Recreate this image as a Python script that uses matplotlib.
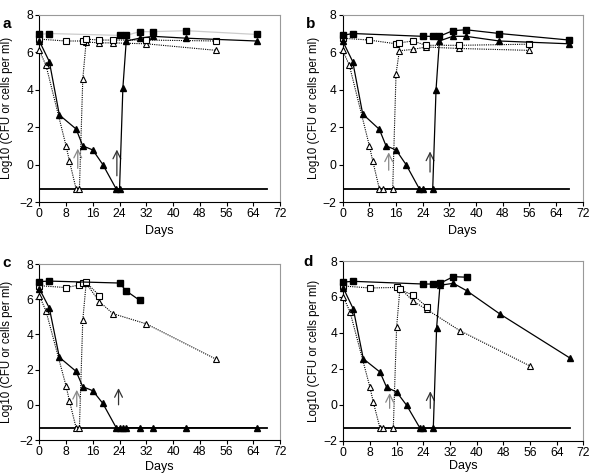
import matplotlib
matplotlib.use("Agg")
import matplotlib.pyplot as plt

plt.rcParams['font.family'] = ['Liberation Sans', 'DejaVu Sans']

# detection limit and axis setup
limit_y = -1.3
limit_xmax = 68
x_ticks = list(range(0, 73, 8))
y_ticks = list(range(-2, 9, 2))

# ---- panel a ----
a_fsq_x = [0, 3, 24, 26, 30, 34, 44, 65]
a_fsq_y = [6.95, 7.0, 6.9, 6.9, 7.1, 7.1, 7.15, 6.95]
a_ftri_x = [0, 3, 6, 11, 13, 16, 19, 23, 24, 25, 26, 30, 34, 44, 65]
a_ftri_y = [6.6, 5.5, 2.65, 1.9, 1.0, 0.78, 0.0, -1.3, -1.3, 4.1, 6.6, 6.75, 6.85, 6.75, 6.6]
a_osq_x = [0, 8, 13, 14, 18, 22, 32, 53]
a_osq_y = [6.7, 6.6, 6.6, 6.7, 6.65, 6.65, 6.65, 6.6]
a_otri_x = [0, 2, 8, 9, 11, 12, 13, 14, 18, 22, 32, 53]
a_otri_y = [6.1, 5.3, 1.0, 0.2, -1.3, -1.3, 4.55, 6.55, 6.5, 6.5, 6.45, 6.1]
a_arrows = [(11.5, -0.2, 0.85), (23.2, -0.6, 0.8)]

# ---- panel b ----
b_fsq_x = [0, 3, 24, 27, 29, 33, 37, 47, 68]
b_fsq_y = [6.9, 7.0, 6.85, 6.85, 6.85, 7.15, 7.2, 7.0, 6.65]
b_ftri_x = [0, 3, 6, 11, 13, 16, 19, 23, 24, 27, 28, 29, 33, 37, 47, 68]
b_ftri_y = [6.6, 5.5, 2.7, 1.88, 1.0, 0.78, 0.0, -1.3, -1.3, -1.3, 4.0, 6.6, 6.85, 6.85, 6.6, 6.45]
b_osq_x = [0, 8, 16, 17, 21, 25, 35, 56]
b_osq_y = [6.75, 6.65, 6.45, 6.5, 6.6, 6.37, 6.37, 6.43]
b_otri_x = [0, 2, 8, 9, 11, 12, 15, 16, 17, 21, 25, 35, 56]
b_otri_y = [6.1, 5.3, 1.0, 0.2, -1.3, -1.3, -1.3, 4.85, 6.08, 6.15, 6.28, 6.2, 6.1]
b_arrows = [(13.8, -0.3, 0.65), (26.2, -0.4, 0.7)]

# ---- panel c ----
c_fsq_x = [0, 3, 24, 26, 30]
c_fsq_y = [7.0, 7.03, 6.92, 6.47, 5.94]
c_ftri_x = [0, 3, 6, 11, 13, 16, 19, 23, 24, 25, 26, 30, 34, 44, 65]
c_ftri_y = [6.6, 5.5, 2.7, 1.9, 1.03, 0.8, 0.08, -1.3, -1.3, -1.3, -1.3, -1.3, -1.3, -1.3, -1.3]
c_osq_x = [0, 8, 12, 13, 14, 18]
c_osq_y = [6.77, 6.66, 6.81, 6.92, 6.95, 6.2]
c_otri_x = [0, 2, 8, 9, 11, 12, 13, 14, 18, 22, 32, 53]
c_otri_y = [6.2, 5.33, 1.07, 0.23, -1.3, -1.3, 4.8, 6.9, 5.86, 5.18, 4.6, 2.58]
c_arrows = [(11.2, -0.1, 0.85), (23.7, 0.0, 0.95)]

# ---- panel d ----
d_fsq_x = [0, 3, 24, 27, 29, 33, 37]
d_fsq_y = [6.83, 6.87, 6.72, 6.72, 6.76, 7.13, 7.1]
d_ftri_x = [0, 3, 6, 11, 13, 16, 19, 23, 24, 27, 28, 29, 33, 37, 47, 68]
d_ftri_y = [6.5, 5.33, 2.56, 1.82, 0.97, 0.71, -0.03, -1.3, -1.3, -1.3, 4.3, 6.65, 6.76, 6.35, 5.05, 2.6]
d_osq_x = [0, 8, 16, 17, 21, 25]
d_osq_y = [6.61, 6.5, 6.53, 6.42, 6.09, 5.46]
d_otri_x = [0, 2, 8, 9, 11, 12, 15, 16, 17, 21, 25, 35, 56]
d_otri_y = [6.0, 5.18, 0.97, 0.15, -1.3, -1.3, -1.3, 4.34, 6.5, 5.76, 5.31, 4.12, 2.16]
d_arrows = [(13.9, -0.2, 0.65), (26.1, -0.2, 0.75)]


def draw_panel(ax, fsq, ftri, osq, otri, arrows, fsq_line='black'):
    dotted = (0, (1, 1))
    ax.plot(*otri, color='black', lw=0.8, ls=dotted, marker='^', ms=5,
            mfc='white', mec='black', mew=0.8, clip_on=False, zorder=3)
    ax.plot(*osq, color='black', lw=0.8, ls=dotted, marker='s', ms=5,
            mfc='white', mec='black', mew=0.8, clip_on=False, zorder=4)
    ax.plot(*fsq, color=fsq_line, lw=0.9, marker='s', ms=5,
            mfc='black', mec='black', clip_on=False, zorder=5)
    ax.plot(*ftri, color='black', lw=0.9, marker='^', ms=5,
            mfc='black', mec='black', clip_on=False, zorder=5)
    ax.plot([0, limit_xmax], [limit_y, limit_y], color='black', lw=1.3, zorder=2)
    for (x, y0, y1), col in zip(arrows, ['#888888', '#333333']):
        ax.annotate('', xy=(x, y1), xytext=(x, y0),
                    arrowprops=dict(arrowstyle='->', color=col, lw=0.9,
                                    mutation_scale=14, shrinkA=0, shrinkB=0))
    ax.set_xlim(0, 72)
    ax.set_ylim(-2, 8)
    ax.set_xticks(x_ticks)
    ax.set_yticks(y_ticks)
    ax.tick_params(direction='out', length=3, width=0.8, labelsize=8.7, pad=1.5)
    for s in ['top', 'right']:
        ax.spines[s].set_color('#999999')
        ax.spines[s].set_linewidth(0.8)
    for s in ['left', 'bottom']:
        ax.spines[s].set_linewidth(0.8)
    ax.set_xlabel('Days', fontsize=9)
    ax.set_ylabel('Log10 (CFU or cells per ml)', fontsize=8.3)


fig = plt.figure(figsize=(5.92, 4.74), dpi=100)
ax_a = fig.add_axes([0.0664, 0.5738, 0.4066, 0.395])
ax_b = fig.add_axes([0.5789, 0.5738, 0.4054, 0.395])
ax_c = fig.add_axes([0.0664, 0.0717, 0.4066, 0.3713])
ax_d = fig.add_axes([0.5799, 0.0703, 0.4054, 0.379])

draw_panel(ax_a, (a_fsq_x, a_fsq_y), (a_ftri_x, a_ftri_y), (a_osq_x, a_osq_y),
           (a_otri_x, a_otri_y), a_arrows, fsq_line='#cccccc')
draw_panel(ax_b, (b_fsq_x, b_fsq_y), (b_ftri_x, b_ftri_y), (b_osq_x, b_osq_y),
           (b_otri_x, b_otri_y), b_arrows)
draw_panel(ax_c, (c_fsq_x, c_fsq_y), (c_ftri_x, c_ftri_y), (c_osq_x, c_osq_y),
           (c_otri_x, c_otri_y), c_arrows)
draw_panel(ax_d, (d_fsq_x, d_fsq_y), (d_ftri_x, d_ftri_y), (d_osq_x, d_osq_y),
           (d_otri_x, d_otri_y), d_arrows)

ax_a.xaxis.set_label_coords(0.5, -0.123)
ax_b.xaxis.set_label_coords(0.5, -0.123)
ax_c.xaxis.set_label_coords(0.5, -0.118)
ax_d.xaxis.set_label_coords(0.5, -0.108)
ax_a.yaxis.set_label_coords(-0.109, 0.5)
ax_b.yaxis.set_label_coords(-0.095, 0.5)
ax_c.yaxis.set_label_coords(-0.109, 0.5)
ax_d.yaxis.set_label_coords(-0.097, 0.5)

for lbl, (x, y) in zip('abcd', [(0.004, 0.965), (0.517, 0.965), (0.004, 0.46), (0.512, 0.462)]):
    fig.text(x, y, lbl, fontsize=11, fontweight='bold', va='top')

fig.savefig('out.png', dpi=100)
